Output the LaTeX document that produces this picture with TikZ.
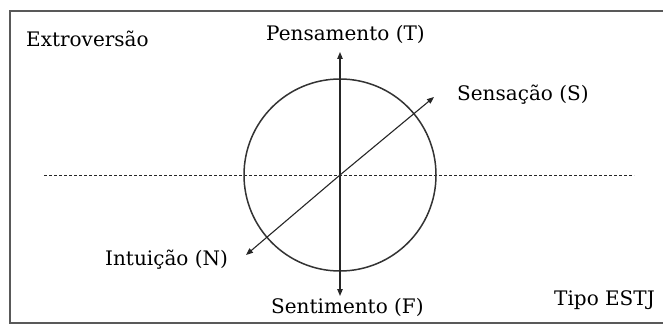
\documentclass[tikz,border=0pt]{standalone}
\usepackage{fontspec}
\setmainfont{DejaVu Serif}
\usepackage{tikz}
\usetikzlibrary{arrows.meta, positioning}

\begin{document}
\begin{tikzpicture}[x=1pt,y=-1pt,
  axis/.style={-{Triangle[length=7pt,width=5.5pt]},line width=1.1pt,black!85},
  lbl/.style={font=\fontsize{20}{22}\selectfont,inner sep=0pt,anchor=base west}]
  \useasboundingbox (0,0) rectangle (663,326);
  % Frame (open at the right)
  \draw[gray!70!black,line width=1.6pt] (663,11) -- (10,11) -- (10,323) -- (663,323);
  % Centre and axis ends
  \coordinate (c) at (340,175);
  \coordinate (t) at (340,52);
  \coordinate (f) at (340,296);
  \coordinate (s) at (434,97);
  \coordinate (n) at (246,255);
  \coordinate (dl) at (44,175);
  \coordinate (dr) at (634,175);
  % Dashed line
  \draw[black!85,line width=1pt,dash pattern=on 3pt off 2pt] (dl) -- (dr);
  % Circle
  \draw[black!80,line width=1.5pt] (c) circle[radius=96pt];
  % Axes
  \draw[axis] (c) -- (t);
  \draw[axis] (c) -- (f);
  \draw[axis] (c) -- (s);
  \draw[axis] (c) -- (n);
  % Labels
  \node[lbl] (ext) at (26,47) {Extroversão};
  \node[lbl] (pens) at (266,41) {Pensamento (T)};
  \node[lbl] (sens) at (457,101) {Sensação (S)};
  \node[lbl] (intu) at (105,265) {Intuição (N)};
  \node[lbl] (sent) at (271,313) {Sentimento (F)};
  \node[lbl] (tipo) at (554,305) {Tipo ESTJ};
\end{tikzpicture}
\end{document}
